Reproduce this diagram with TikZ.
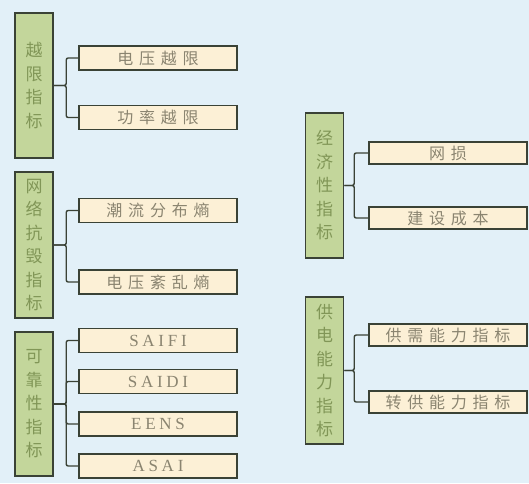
\documentclass[tikz,border=0pt]{standalone}
\usepackage{fontspec}
\setmainfont{Liberation Serif}[LetterSpace=22]
\newfontfamily\cjk[LetterSpace=36]{Noto Sans CJK SC}
\newfontfamily\cjkcat{Noto Sans CJK SC}
\usetikzlibrary{positioning}
\definecolor{bgblue}{HTML}{E2F0F8}
\definecolor{catgreen}{HTML}{C3D69B}
\definecolor{leafcream}{HTML}{FCF0D6}
\definecolor{edgegrey}{HTML}{3A4236}
\definecolor{txtgrey}{HTML}{8A8470}
\definecolor{txtolive}{HTML}{819657}

\begin{document}
\begin{tikzpicture}[x=1pt, y=-1pt,
  cat/.style={draw=edgegrey, line width=1.6pt, fill=catgreen, minimum width=38pt, align=center, inner sep=0pt, font=\cjkcat\fontsize{17}{23.5}\selectfont, text=txtolive},
  leaf/.style={draw=edgegrey, line width=1.6pt, fill=leafcream, minimum width=158pt, minimum height=24pt, inner sep=0pt, font=\cjk\fontsize{16}{16}\selectfont, text=txtgrey},
  latin/.style={leaf, font=\fontsize{17}{16}\selectfont},
  tie/.style={draw=edgegrey, line width=1.4pt, rounded corners=2pt}]
  \fill[bgblue] (0,0) rectangle (529,483);
  \useasboundingbox (0,0) rectangle (529,483);
  % left column
  \node[cat, minimum height=145pt] (limit) at (34,85.5) {越\\限\\指\\标};
  \node[leaf] (vlimit) at (158,58) {电压越限};
  \node[leaf] (plimit) at (158,117.5) {功率越限};
  \node[cat, minimum height=146pt] (robust) at (34,245) {网\\络\\抗\\毁\\指\\标};
  \node[leaf] (flowent) at (158,210.5) {潮流分布熵};
  \node[leaf] (voltent) at (158,282) {电压紊乱熵};
  \node[cat, minimum height=144pt] (reliab) at (34,404) {可\\靠\\性\\指\\标};
  \node[latin] (saifi) at (158,340.5) {SAIFI};
  \node[latin] (saidi) at (158,381.5) {SAIDI};
  \node[latin] (eens) at (158,424) {EENS};
  \node[latin] (asai) at (158,466) {ASAI};
  % right column
  \node[cat, minimum height=145pt] (econ) at (324.5,185.5) {经\\济\\性\\指\\标};
  \node[leaf, minimum height=22pt] (loss) at (448,153) {网损};
  \node[leaf, minimum height=22pt] (cost) at (448,218) {建设成本};
  \node[cat, minimum height=147pt] (supply) at (324.5,370.5) {供\\电\\能\\力\\指\\标};
  \node[leaf, minimum height=22pt] (demand) at (448,335) {供需能力指标};
  \node[leaf, minimum height=22pt] (transfer) at (448,402) {转供能力指标};
  \foreach \l in {vlimit,plimit} \draw[tie] (\l.west) -- ++(-12,0) |- (limit.east);
  \foreach \l in {flowent,voltent} \draw[tie] (\l.west) -- ++(-12,0) |- (robust.east);
  \foreach \l in {saifi,saidi,eens,asai} \draw[tie] (\l.west) -- ++(-12,0) |- (reliab.east);
  \foreach \l in {loss,cost} \draw[tie] (\l.west) -- ++(-14,0) |- (econ.east);
  \foreach \l in {demand,transfer} \draw[tie] (\l.west) -- ++(-14,0) |- (supply.east);
\end{tikzpicture}
\end{document}
